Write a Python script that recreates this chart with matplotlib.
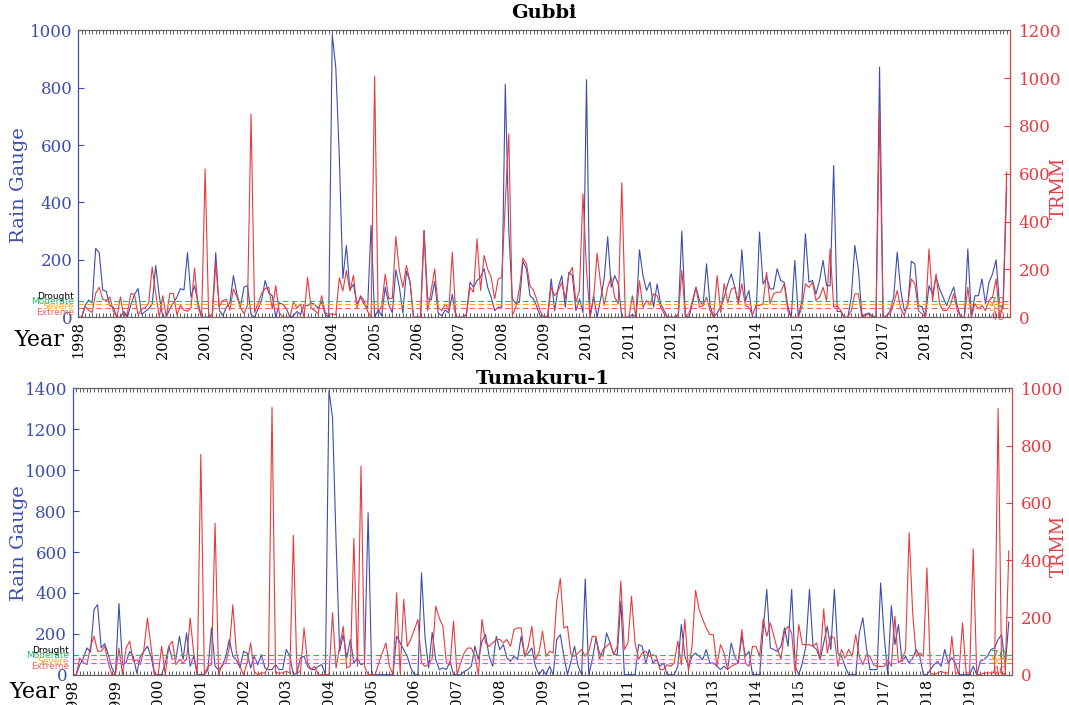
import matplotlib.pyplot as plt
import numpy as np

plt.rcParams['font.family'] = 'DejaVu Serif'

years = list(range(1998, 2020))

# Gubbi, monthly, Jan 1998 - Dec 2019
gubbi_rg = [
    0, 0, 40, 60, 50, 240, 225, 95, 90, 40, 35, 0,
    0, 20, 0, 45, 80, 100, 10, 20, 30, 45, 180, 75,
    0, 0, 30, 50, 70, 100, 95, 225, 70, 110, 50, 0,
    0, 0, 10, 225, 25, 5, 35, 50, 145, 80, 35, 105,
    110, 10, 0, 30, 60, 128, 85, 75, 0, 50, 45, 30,
    0, 5, 20, 10, 45, 40, 50, 45, 30, 55, 10, 0,
    985, 870, 560, 135, 250, 95, 115, 45, 70, 45, 30, 320,
    0, 25, 5, 105, 45, 15, 165, 105, 15, 160, 125, 0,
    0, 0, 302, 65, 60, 125, 15, 5, 25, 15, 80, 0,
    0, 0, 10, 122, 105, 128, 140, 169, 105, 70, 23, 35,
    35, 812, 300, 64, 47, 52, 195, 169, 75, 64, 35, 0,
    0, 0, 134, 23, 105, 145, 35, 157, 145, 23, 64, 17,
    828, 0, 75, 0, 64, 134, 281, 105, 145, 116, 0, 0,
    0, 10, 0, 235, 145, 93, 122, 35, 116, 47, 23, 0,
    0, 0, 10, 300, 5, 0, 47, 105, 58, 40, 186, 40,
    0, 15, 35, 70, 116, 151, 105, 49, 235, 58, 93, 0,
    0, 297, 116, 140, 99, 99, 169, 128, 122, 40, 0, 198,
    0, 58, 291, 122, 128, 81, 128, 198, 110, 110, 529, 20,
    20, 0, 0, 70, 250, 169, 5, 10, 15, 5, 0, 872,
    0, 5, 23, 70, 227, 93, 23, 40, 195, 186, 40, 37,
    0, 110, 81, 140, 99, 70, 40, 75, 105, 40, 0, 0,
    238, 0, 75, 75, 134, 47, 122, 151, 200, 40, 30, 454,
]
gubbi_trmm = [
    0, 0, 45, 30, 20, 100, 125, 75, 70, 85, 25, 0,
    85, 0, 20, 100, 95, 10, 35, 40, 60, 210, 100, 0,
    90, 0, 100, 100, 10, 50, 30, 25, 40, 206, 40, 0,
    620, 0, 0, 225, 45, 70, 75, 30, 118, 85, 40, 15,
    50, 850, 20, 60, 100, 120, 125, 35, 132, 20, 0, 0,
    0, 63, 40, 55, 0, 167, 40, 28, 15, 90, 20, 10,
    15, 10, 165, 110, 195, 110, 175, 40, 90, 70, 25, 0,
    1007, 15, 50, 180, 77, 80, 338, 195, 125, 216, 150, 0,
    0, 0, 363, 28, 110, 202, 40, 28, 55, 28, 272, 0,
    0, 0, 14, 125, 105, 328, 112, 258, 202, 167, 77, 160,
    167, 480, 767, 7, 42, 118, 248, 223, 132, 112, 70, 21,
    0, 7, 125, 90, 112, 146, 77, 178, 209, 63, 112, 516,
    200, 0, 77, 268, 140, 49, 125, 167, 84, 56, 562, 0,
    0, 90, 0, 153, 42, 70, 49, 98, 90, 42, 14, 0,
    0, 0, 7, 195, 7, 14, 70, 125, 42, 49, 84, 28,
    0, 174, 20, 140, 60, 118, 125, 56, 140, 49, 42, 10,
    49, 49, 56, 188, 56, 98, 105, 105, 140, 28, 0, 0,
    0, 42, 140, 125, 146, 70, 84, 125, 70, 286, 42, 49,
    28, 0, 0, 28, 98, 98, 0, 7, 14, 0, 0, 851,
    0, 7, 14, 56, 112, 35, 7, 56, 160, 140, 28, 14,
    0, 286, 70, 181, 56, 28, 28, 49, 98, 28, 0, 0,
    125, 0, 56, 35, 49, 28, 70, 84, 160, 0, 56, 607,
]

# Tumakuru-1, monthly, Jan 1998 - Dec 2019
tumakuru_rg = [
    0, 0, 49, 82, 131, 110, 319, 343, 131, 152, 98, 33,
    0, 348, 49, 60, 114, 90, 8, 90, 114, 139, 90, 0,
    0, 0, 57, 139, 74, 77, 188, 74, 204, 41, 90, 0,
    0, 0, 25, 229, 41, 25, 41, 90, 172, 90, 74, 33,
    114, 106, 33, 90, 49, 98, 33, 25, 25, 49, 25, 25,
    123, 90, 0, 8, 82, 90, 41, 25, 25, 41, 49, 0,
    1389, 1258, 650, 114, 196, 82, 172, 57, 82, 49, 57, 792,
    0, 0, 0, 0, 0, 0, 0, 188, 155, 123, 90, 33,
    0, 0, 498, 180, 33, 207, 74, 25, 33, 25, 65, 0,
    0, 0, 16, 25, 41, 139, 74, 163, 196, 90, 41, 188,
    123, 147, 82, 65, 90, 74, 188, 90, 106, 131, 41, 0,
    25, 0, 41, 0, 172, 196, 90, 0, 65, 139, 41, 0,
    469, 0, 74, 180, 106, 90, 204, 155, 98, 98, 359, 0,
    0, 0, 0, 147, 139, 57, 123, 57, 74, 41, 57, 0,
    0, 0, 41, 245, 90, 41, 90, 106, 90, 74, 123, 57,
    57, 41, 25, 41, 25, 155, 90, 57, 188, 90, 114, 0,
    0, 0, 220, 417, 131, 123, 114, 139, 229, 139, 417, 41,
    0, 57, 139, 417, 139, 123, 74, 155, 237, 123, 417, 106,
    90, 41, 0, 0, 0, 204, 278, 131, 25, 25, 25, 449,
    188, 0, 338, 147, 245, 65, 90, 57, 82, 123, 90, 0,
    0, 25, 49, 65, 41, 123, 57, 82, 57, 0, 0, 0,
    0, 41, 0, 65, 74, 90, 123, 131, 172, 196, 41, 257,
]
tumakuru_trmm = [
    0, 0, 58, 43, 35, 99, 134, 82, 82, 99, 41, 0,
    0, 93, 0, 93, 117, 47, 53, 35, 88, 198, 99, 0,
    0, 99, 0, 99, 117, 35, 53, 41, 53, 198, 76, 0,
    770, 0, 29, 35, 529, 0, 35, 41, 93, 244, 76, 29,
    0, 41, 111, 12, 0, 6, 6, 29, 934, 6, 6, 6,
    12, 6, 487, 6, 12, 163, 41, 18, 29, 0, 0, 0,
    0, 216, 23, 99, 169, 23, 30, 476, 29, 729, 29, 0,
    0, 0, 41, 76, 111, 29, 0, 286, 6, 263, 99, 123,
    158, 193, 41, 29, 35, 58, 239, 198, 169, 41, 35, 187,
    0, 41, 76, 93, 93, 64, 0, 193, 111, 99, 111, 123,
    123, 111, 123, 99, 158, 163, 163, 64, 99, 169, 53, 76,
    152, 64, 82, 76, 257, 336, 163, 169, 70, 64, 76, 88,
    64, 82, 134, 134, 53, 88, 99, 111, 70, 99, 327, 88,
    111, 274, 111, 53, 76, 82, 64, 70, 64, 18, 18, 35,
    29, 41, 117, 35, 193, 12, 100, 295, 228, 193, 163, 140,
    140, 29, 105, 76, 18, 29, 35, 41, 158, 41, 29, 99,
    99, 64, 195, 134, 181, 134, 88, 53, 152, 169, 146, 6,
    175, 105, 105, 105, 99, 111, 53, 230, 76, 134, 128, 29,
    88, 58, 88, 64, 140, 64, 35, 70, 64, 35, 29, 29,
    29, 53, 29, 204, 41, 53, 88, 496, 216, 64, 76, 64,
    373, 6, 0, 6, 12, 6, 6, 134, 6, 6, 181, 6,
    6, 440, 0, 0, 6, 6, 6, 6, 930, 6, 0, 432,
]

# drought thresholds (TRMM axis)
levels = ['Moderate', 'Severe', 'Extreme']
level_values = [70, 55, 40]
level_colors = ['#2fb56a', '#f5a623', '#f06262']

BLUE = '#3d4dac'
RED = '#ea3a3f'


def draw_panel(ax, title, rg, trmm, rg_max, trmm_max, label_y, value_y,
               title_pad, year_y, ylab_x):
    months = np.arange(len(rg))
    ax.plot(months, rg, color=BLUE, lw=0.8)
    ax.set_xlim(0, len(rg))
    ax.set_ylim(0, rg_max)
    ax.set_yticks(np.arange(0, rg_max + 1, 200))
    ax.set_xticks(months[::12])
    ax.set_xticklabels(years, rotation=90, fontsize=10.5)
    ax.set_xticks(months, minor=True)
    ax.tick_params(axis='x', which='both', direction='in', top=True,
                   length=3, width=0.6, color='#444444', pad=3)
    ax.tick_params(axis='y', direction='in', length=4, colors=BLUE,
                   labelsize=12, pad=4)
    ax.set_ylabel('Rain Gauge', color=BLUE, fontsize=14)
    ax.yaxis.set_label_coords(ylab_x[0], 0.46)
    ax.set_title(title, fontsize=14, fontweight='bold', pad=title_pad)

    ax2 = ax.twinx()
    ax2.plot(months, trmm, color=RED, lw=0.8)
    ax2.set_ylim(0, trmm_max)
    ax2.set_yticks(np.arange(0, trmm_max + 1, 200))
    ax2.tick_params(axis='y', direction='in', length=4, colors=RED,
                    labelsize=12, pad=6)
    ax2.set_ylabel('TRMM', color=RED, fontsize=13)
    ax2.yaxis.set_label_coords(ylab_x[1], 0.45)

    for a in (ax, ax2):
        a.spines['left'].set_color(BLUE)
        a.spines['right'].set_color(RED)
        a.spines['top'].set_color('#666666')
        a.spines['bottom'].set_color('#666666')

    for val, col in zip(level_values, level_colors):
        ax2.axhline(val, color=col, ls='--', lw=0.8, dashes=(5, 3))

    # labels on the left of the axis
    names = ['Drought'] + levels
    cols = ['black'] + level_colors
    for name, col, y in zip(names, cols, label_y):
        ax.text(-0.004, y, name, transform=ax.transAxes, ha='right',
                va='center', fontsize=6.5, color=col, family='DejaVu Sans')
    for val, col, y in zip(level_values, level_colors, value_y):
        ax.text(0.986, y, str(val), transform=ax.transAxes, ha='center',
                va='center', fontsize=9, color=col, family='DejaVu Sans')

    ax.text(-0.068, year_y, 'Year', transform=ax.transAxes, ha='left',
            va='center', fontsize=16)
    return ax2


fig = plt.figure(figsize=(10.69, 7.05), dpi=100)
ax_top = fig.add_axes([0.073, 0.550, 0.872, 0.407])
ax_bot = fig.add_axes([0.068, 0.043, 0.879, 0.406])

draw_panel(ax_top, 'Gubbi', gubbi_rg, gubbi_trmm, 1000, 1200,
           [0.072, 0.054, 0.036, 0.018], [0.050, 0.034, 0.004], 9, -0.08,
           (-0.054, 1.043))
draw_panel(ax_bot, 'Tumakuru-1', tumakuru_rg, tumakuru_trmm, 1400, 1000,
           [0.086, 0.066, 0.047, 0.028], [0.068, 0.050, 0.010], 3, -0.06,
           (-0.048, 1.040))

fig.savefig('out.png', dpi=100)
